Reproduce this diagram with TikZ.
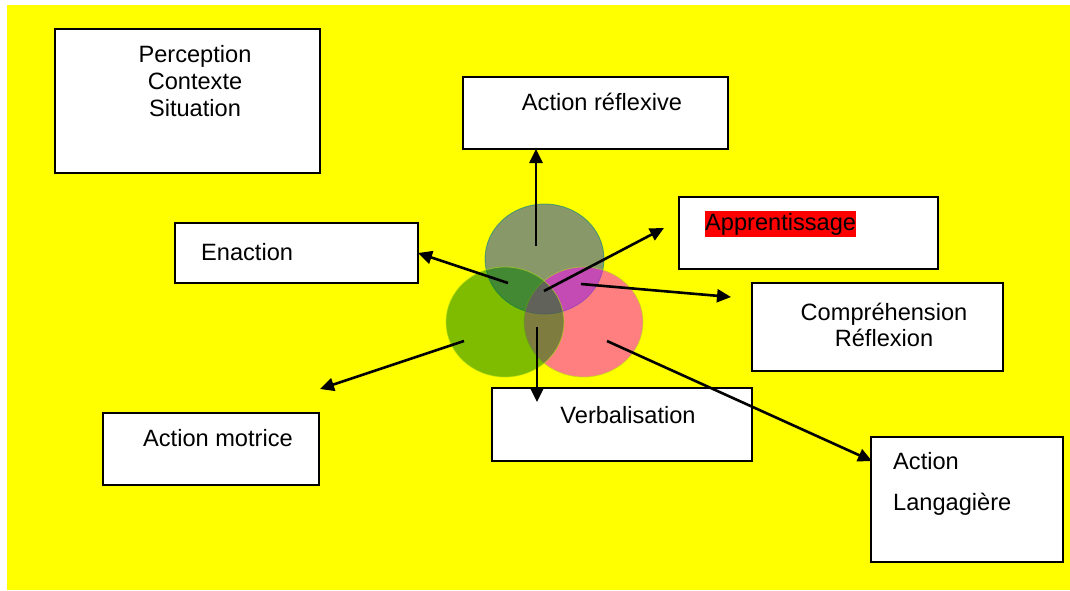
\documentclass[tikz,border=0pt]{standalone}
\usepackage{fontspec}
\setmainfont{Liberation Sans}
\usetikzlibrary{arrows.meta}
\definecolor{bgyellow}{RGB}{255,255,0}
\definecolor{topc}{rgb}{0.07,0.20,0.82}
\definecolor{greenc}{rgb}{0,0.48,0}
\definecolor{pinkc}{rgb}{1,0,1}
\tikzset{
  box/.style={draw=black, line width=1.8pt, fill=white, inner sep=0pt},
  lbl/.style={font=\fontsize{23.6}{27}\selectfont, inner sep=0pt, text=black},
  arr/.style={line width=2.6pt, -{Triangle[length=14pt,width=13pt]}},
  blob/.style={fill opacity=0.5, draw opacity=0.6, line width=0.8pt}
}
\begin{document}
\begin{tikzpicture}[x=1pt,y=-1pt]
\useasboundingbox (0,0) rectangle (1070,591);
\fill[bgyellow] (7,5) rectangle (1070,590);

% boxes
\node[box, minimum width=265pt, minimum height=144pt] (perc) at (187.5,101) {};
\node[box, minimum width=265pt, minimum height=72pt] (refl) at (595.5,113) {};
\node[box, minimum width=259pt, minimum height=72pt] (appr) at (808.5,233) {};
\node[box, minimum width=251pt, minimum height=88pt] (comp) at (877.5,327) {};
\node[box, minimum width=192pt, minimum height=125pt] (lang) at (967,499.5) {};
\node[box, minimum width=243pt, minimum height=60pt] (enac) at (296.5,253) {};
\node[box, minimum width=216pt, minimum height=72pt] (motr) at (211,449) {};
\node[box, minimum width=260pt, minimum height=73pt] (verb) at (622,424.5) {};

% labels
\node[lbl, align=center] (tperc) at (195,81) {Perception\\Contexte\\Situation};
\node[lbl] (trefl) at (602,102) {Action réflexive};
\node[lbl, anchor=west, fill=red, inner ysep=2pt] (tappr) at (705,224) {Apprentissage};
\node[lbl, align=center, font=\fontsize{23.6}{26}\selectfont] (tcomp) at (884,325) {Compréhension\\Réflexion};
\node[lbl, anchor=west] (tenac) at (201,252) {Enaction};
\node[lbl, anchor=west] (tmotr) at (143,438) {Action motrice};
\node[lbl] (tverb) at (628,415) {Verbalisation};
\node[lbl, anchor=west, align=left, font=\fontsize{23.6}{41}\selectfont] (tlang) at (893,483.5) {Action\\Langagière};

% circles
\fill[topc, blob, draw=teal] (544.5,259) ellipse [x radius=59.5, y radius=55];
\fill[pinkc, blob, draw=yellow!70!green] (583.5,322) ellipse [x radius=59.5, y radius=55];
\fill[greenc, blob, draw=yellow!70!green] (505,322) ellipse [x radius=59, y radius=55];

% arrow coordinates
\coordinate (sR) at (536,246);
\coordinate (eR) at (536,149);
\coordinate (sE) at (508,283);
\coordinate (eE) at (418,253);
\coordinate (sA) at (544,291);
\coordinate (eA) at (664,228);
\coordinate (sC) at (581,284);
\coordinate (eC) at (731,297);
\coordinate (sM) at (464,341);
\coordinate (eM) at (320,389);
\coordinate (sV) at (537,327);
\coordinate (eV) at (537,402);
\coordinate (sL) at (607,341);
\coordinate (eL) at (872,461);

\draw[arr] (sR) -- (eR);
\draw[arr] (sE) -- (eE);
\draw[arr] (sA) -- (eA);
\draw[arr] (sC) -- (eC);
\draw[arr] (sM) -- (eM);
\draw[arr] (sV) -- (eV);
\draw[arr] (sL) -- (eL);
\end{tikzpicture}
\end{document}
